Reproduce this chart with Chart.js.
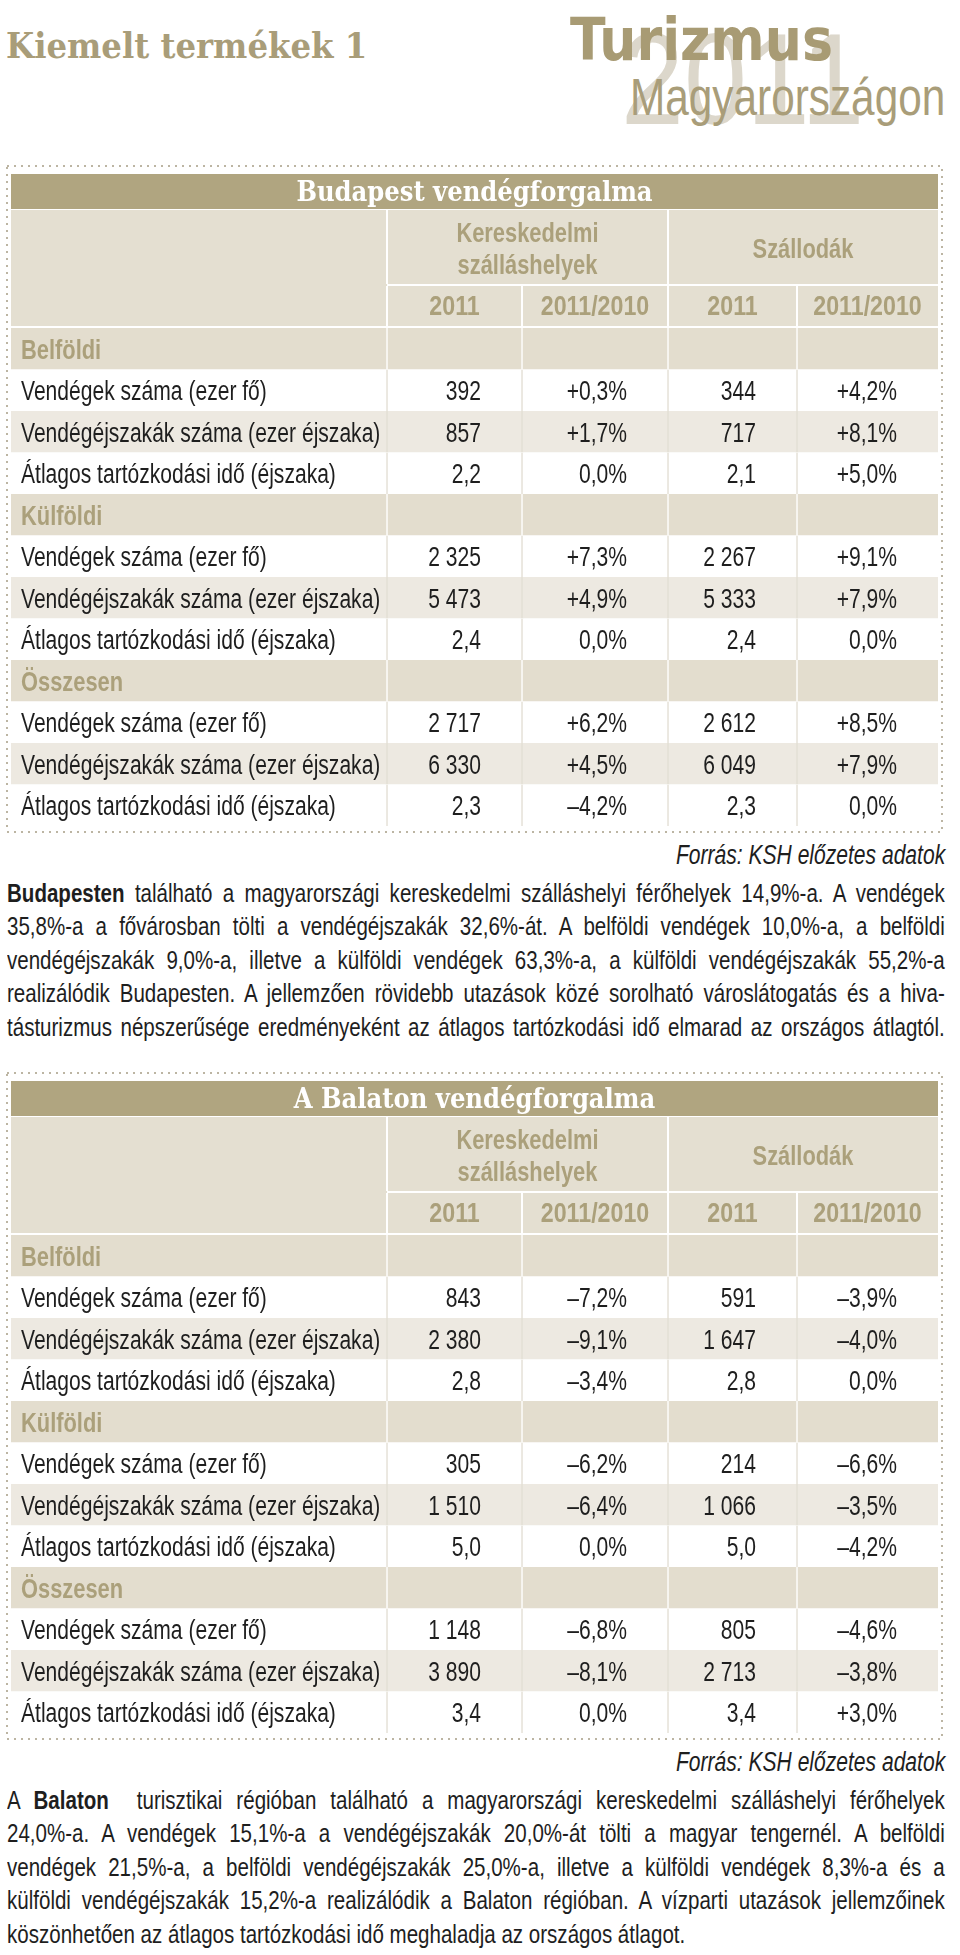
<!DOCTYPE html>
<html>
<head>
<meta charset="utf-8">
<script src="https://cdn.jsdelivr.net/npm/chart.js@4.4.0/dist/chart.umd.min.js"></script>
<style>
  body { margin: 0; background: #fff; }
  #page { position: relative; width: 960px; height: 1955px; overflow: hidden;
          font-family: "Liberation Sans", Arial, sans-serif; color: #1e1e1e; }
  .abs { position: absolute; white-space: nowrap; line-height: 1; }
  #kiemelt { left: 6px; top: 24px; font: bold 36px "DejaVu Serif Condensed", "DejaVu Serif", serif; color: #a99d79; }
  #year { left: 621px; top: 14px; font-size: 130px; color: #dcd7cb; transform: scaleX(0.87); transform-origin: 0 0; }
  #turizmus { left: 570px; top: 6px; font: bold 58px "DejaVu Sans Condensed", sans-serif; color: #a89b74; }
  #magyar { left: 630px; top: 72px; font-size: 51px; color: #a99d79; transform: scaleX(0.83); transform-origin: 0 0; }
  .src { right: 15px; font-style: italic; font-size: 27px; transform: scaleX(0.78); transform-origin: 100% 0; }
  .para { position: absolute; left: 7px; width: 1187px; font-size: 26px; line-height: 33.4px;
          transform: scaleX(0.79); transform-origin: 0 0; }
  .para div { white-space: nowrap; text-align: justify; text-align-last: justify; }
  .para div.last { text-align-last: left; }
  .wrap { position: absolute; left: 0; width: 960px; height: 680px; }
</style>
</head>
<body>
<div id="page">
  <div class="abs" id="year">2011</div>
  <div class="abs" id="kiemelt">Kiemelt termékek 1</div>
  <div class="abs" id="turizmus">Turizmus</div>
  <div class="abs" id="magyar">Magyarországon</div>

  <div class="wrap" style="top:160px"><canvas id="budapest"></canvas></div>
  <div class="abs src" style="top:842px">Forrás: KSH előzetes adatok</div>
  <div class="para" style="top:877px">
    <div><b>Budapesten</b> található a magyarországi kereskedelmi szálláshelyi férőhelyek 14,9%-a. A vendégek</div>
    <div>35,8%-a a fővárosban tölti a vendégéjszakák 32,6%-át. A belföldi vendégek 10,0%-a, a belföldi</div>
    <div>vendégéjszakák 9,0%-a, illetve a külföldi vendégek 63,3%-a, a külföldi vendégéjszakák 55,2%-a</div>
    <div>realizálódik Budapesten. A jellemzően rövidebb utazások közé sorolható városlátogatás és a hiva-</div>
    <div>tásturizmus népszerűsége eredményeként az átlagos tartózkodási idő elmarad az országos átlagtól.</div>
  </div>

  <div class="wrap" style="top:1067px"><canvas id="balaton"></canvas></div>
  <div class="abs src" style="top:1749px">Forrás: KSH előzetes adatok</div>
  <div class="para" style="top:1784px">
    <div>A <b>Balaton</b>&nbsp; turisztikai régióban található a magyarországi kereskedelmi szálláshelyi férőhelyek</div>
    <div>24,0%-a. A vendégek 15,1%-a a vendégéjszakák 20,0%-át tölti a magyar tengernél. A belföldi</div>
    <div>vendégek 21,5%-a, a belföldi vendégéjszakák 25,0%-a, illetve a külföldi vendégek 8,3%-a és a</div>
    <div>külföldi vendégéjszakák 15,2%-a realizálódik a Balaton régióban. A vízparti utazások jellemzőinek</div>
    <div class="last">köszönhetően az átlagos tartózkodási idő meghaladja az országos átlagot.</div>
  </div>
</div>

<script>
// row and column labels
const groups = ['Belföldi', 'Külföldi', 'Összesen'];
const measures = ['Vendégek száma (ezer fő)', 'Vendégéjszakák száma (ezer éjszaka)', 'Átlagos tartózkodási idő (éjszaka)'];
const colGroups = [['Kereskedelmi', 'szálláshelyek'], ['Szállodák']];
const colYears = ['2011', '2011/2010', '2011', '2011/2010'];

// Budapest (order: Belföldi x3, Külföldi x3, Összesen x3)
const budKer2011 = [392, 857, 2.2, 2325, 5473, 2.4, 2717, 6330, 2.3];
const budKerChg = [0.3, 1.7, 0.0, 7.3, 4.9, 0.0, 6.2, 4.5, -4.2];
const budSzall2011 = [344, 717, 2.1, 2267, 5333, 2.4, 2612, 6049, 2.3];
const budSzallChg = [4.2, 8.1, 5.0, 9.1, 7.9, 0.0, 8.5, 7.9, 0.0];

// Balaton
const balKer2011 = [843, 2380, 2.8, 305, 1510, 5.0, 1148, 3890, 3.4];
const balKerChg = [-7.2, -9.1, -3.4, -6.2, -6.4, 0.0, -6.8, -8.1, 0.0];
const balSzall2011 = [591, 1647, 2.8, 214, 1066, 5.0, 805, 2713, 3.4];
const balSzallChg = [-3.9, -4.0, 0.0, -6.6, -3.5, -4.2, -4.6, -3.8, 3.0];

// layout of the table grid (column widths, px)
const colWidths = [376, 135, 146, 129, 141];
const edges = [0];
colWidths.forEach(w => edges.push(edges[edges.length - 1] + w));

const rows = [];
groups.forEach((g, gi) => {
  rows.push({ label: g, section: true });
  measures.forEach((m, mi) => rows.push({ label: m, k: gi * 3 + mi, mi: mi }));
});

const FONT = '"Liberation Sans", Arial, sans-serif';
const TAN = '#aba07b';
const SX = 0.78;      // squeeze Liberation Sans to a condensed look

function fmtNum(v, mi) {
  if (mi === 2) return v.toFixed(1).replace('.', ',');
  return String(v).replace(/\B(?=(\d{3})+(?!\d))/g, '\u00a0');
}
function fmtChg(v) {
  const s = Math.abs(v).toFixed(1).replace('.', ',') + '%';
  if (v > 0) return '+' + s;
  if (v < 0) return '\u2013' + s;
  return s;
}
function rowFill(r) {
  if (r.section) return '#e3ddce';
  return r.mi === 1 ? '#ede9e1' : '#ffffff';
}
function narrowText(ctx, txt, x, y, align, sx) {
  ctx.save();
  ctx.translate(x, y);
  ctx.scale(sx, 1);
  ctx.textAlign = align;
  ctx.fillText(txt, 0, 0);
  ctx.restore();
}

function makeTable(id, title, cols) {
  const tablePlugin = {
    id: 'tablePlugin',
    beforeDraw(chart) {
      const ctx = chart.ctx, a = chart.chartArea, xs = chart.scales.x;
      const px = edges.map(e => xs.getPixelForValue(e));
      const T = a.top, L = px[0], R = px[5];
      ctx.save();
      // dotted frame
      ctx.strokeStyle = '#bcb5a3';
      ctx.lineWidth = 2;
      ctx.setLineDash([2, 5]);
      ctx.strokeRect(L - 4, T - 162, R - L + 8, a.bottom - T + 168);
      ctx.setLineDash([]);
      // title band + header block
      ctx.fillStyle = '#b0a580';
      ctx.fillRect(L, T - 154, R - L, 35);
      ctx.fillStyle = '#e4dfd1';
      ctx.fillRect(L, T - 118, R - L, 118);
      ctx.fillStyle = '#ffffff';
      ctx.fillRect(px[1], T - 44, R - px[1], 2);
      ctx.fillRect(L, T - 2, R - L, 2);
      [1, 3].forEach(c => ctx.fillRect(px[c] - 1, T - 118, 2, 74));
      [1, 2, 3, 4].forEach(c => ctx.fillRect(px[c] - 1, T - 42, 2, 40));
      // title
      ctx.fillStyle = '#ffffff';
      ctx.textBaseline = 'alphabetic';
      ctx.font = 'bold 27px "DejaVu Serif Condensed", "DejaVu Serif", serif';
      narrowText(ctx, title, (L + R) / 2, T - 127, 'center', 1);
      // column headers
      ctx.fillStyle = TAN;
      ctx.font = 'bold 27px ' + FONT;
      narrowText(ctx, colGroups[0][0], (px[1] + px[3]) / 2, T - 86, 'center', 0.81);
      narrowText(ctx, colGroups[0][1], (px[1] + px[3]) / 2, T - 54, 'center', 0.81);
      narrowText(ctx, colGroups[1][0], (px[3] + px[5]) / 2, T - 70, 'center', 0.81);
      colYears.forEach((t, c) => narrowText(ctx, t, (px[c + 1] + px[c + 2]) / 2, T - 13, 'center', 0.86));
      ctx.restore();
    },
    afterDatasetsDraw(chart) {
      const ctx = chart.ctx;
      ctx.save();
      ctx.textBaseline = 'alphabetic';
      rows.forEach((r, i) => {
        const lab = chart.getDatasetMeta(0).data[i];
        const left = Math.min(lab.base, lab.x);
        const y = lab.y + 10;
        if (r.section) {
          ctx.fillStyle = TAN;
          ctx.font = 'bold 27px ' + FONT;
          narrowText(ctx, r.label, left + 10, y, 'left', 0.81);
          return;
        }
        ctx.fillStyle = '#1e1e1e';
        ctx.font = '27px ' + FONT;
        narrowText(ctx, r.label, left + 10, y, 'left', SX);
        cols.forEach((arr, c) => {
          const el = chart.getDatasetMeta(c + 1).data[i];
          const right = Math.max(el.base, el.x);
          const txt = c % 2 === 0 ? fmtNum(arr[r.k], r.mi) : fmtChg(arr[r.k]);
          narrowText(ctx, txt, right - 41, y, 'right', SX);
        });
      });
      ctx.restore();
    }
  };

  const datasets = colWidths.map((w, c) => ({
    data: rows.map(() => [edges[c], edges[c + 1]]),
    grouped: false,
    barPercentage: 1,
    categoryPercentage: 1,
    backgroundColor: ctx => rowFill(rows[ctx.dataIndex]),
    borderColor: ctx => rows[ctx.dataIndex].section ? '#ffffff' : '#e3ded4',
    borderWidth: { left: c > 0 ? 1 : 0, right: c < 4 ? 1 : 0, top: 0, bottom: 0 },
    borderSkipped: false
  }));

  new Chart(document.getElementById(id), {
    type: 'bar',
    data: { labels: rows.map(r => r.label), datasets: datasets },
    options: {
      indexAxis: 'y',
      responsive: true,
      maintainAspectRatio: false,
      animation: false,
      layout: { padding: { left: 11, right: 22, top: 168, bottom: 14 } },
      scales: {
        x: { type: 'linear', min: 0, max: edges[5], display: false },
        y: { display: false }
      },
      plugins: { legend: { display: false }, tooltip: { enabled: false } }
    },
    plugins: [tablePlugin]
  });
}

makeTable('budapest', 'Budapest vendégforgalma', [budKer2011, budKerChg, budSzall2011, budSzallChg]);
makeTable('balaton', 'A Balaton vendégforgalma', [balKer2011, balKerChg, balSzall2011, balSzallChg]);

// tighten a paragraph line a little if it would not fit its box
document.querySelectorAll('.para div').forEach(d => {
  let ls = 0, fs = 26;
  while (d.scrollWidth > d.clientWidth && ls > -0.8) {
    ls -= 0.1;
    d.style.letterSpacing = ls + 'px';
  }
  while (d.scrollWidth > d.clientWidth && fs > 19) {
    fs -= 0.5;
    d.style.fontSize = fs + 'px';
  }
});
</script>
</body>
</html>
